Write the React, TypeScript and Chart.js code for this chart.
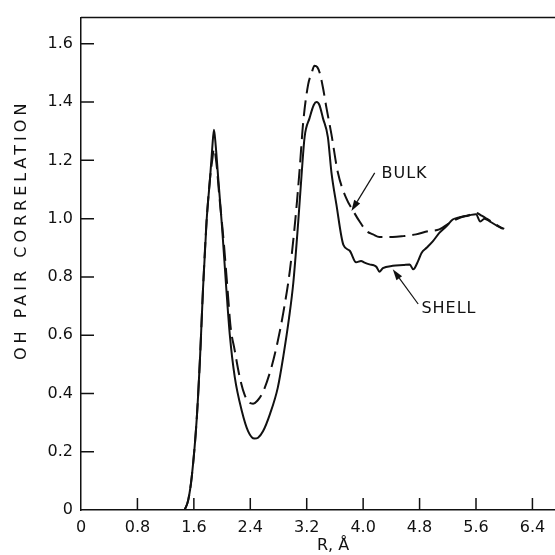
import React, { useEffect, useRef } from "react";
import { Chart, registerables } from "chart.js";

Chart.register(...registerables);

// ---- data ----
const SHELL_R = [
  1.47, 1.52, 1.57, 1.64, 1.69, 1.73, 1.78, 1.83, 1.86, 1.885, 1.91, 1.945, 2.0,
  2.06, 2.11, 2.18, 2.28, 2.37, 2.46, 2.51, 2.58, 2.68, 2.79, 2.87, 2.95, 3.01,
  3.08, 3.13, 3.17, 3.24, 3.3, 3.34, 3.38, 3.43, 3.5, 3.55, 3.62, 3.72, 3.81,
  3.9, 3.97, 4.02, 4.09, 4.15, 4.19, 4.23, 4.28, 4.42, 4.57, 4.66, 4.71, 4.78,
  4.83, 4.9, 4.99, 5.08, 5.18, 5.27, 5.37, 5.51, 5.6, 5.66, 5.72, 5.8, 5.9, 5.98,
];
const SHELL_G = [
  0.0, 0.034, 0.114, 0.31, 0.536, 0.76, 0.99, 1.14, 1.24, 1.305, 1.25, 1.14, 0.97,
  0.76, 0.6, 0.456, 0.34, 0.27, 0.245, 0.248, 0.27, 0.33, 0.42, 0.53, 0.66, 0.78,
  0.99, 1.16, 1.28, 1.345, 1.39, 1.4, 1.39, 1.345, 1.28, 1.16, 1.05, 0.91, 0.89,
  0.85, 0.855, 0.849, 0.843, 0.84, 0.834, 0.818, 0.83, 0.838, 0.841, 0.843, 0.826,
  0.855, 0.883, 0.9, 0.923, 0.951, 0.974, 0.997, 1.005, 1.012, 1.015, 0.99, 1.0,
  0.99, 0.975, 0.965,
];
const BULK_R = [
  1.47, 1.52, 1.57, 1.64, 1.69, 1.73, 1.78, 1.83, 1.86, 1.885, 1.92, 1.96, 2.02,
  2.08, 2.12, 2.18, 2.25, 2.32, 2.39, 2.44, 2.5, 2.58, 2.7, 2.79, 2.87, 2.96,
  3.04, 3.1, 3.15, 3.22, 3.27, 3.31, 3.35, 3.385, 3.43, 3.48, 3.55, 3.64, 3.76,
  3.86, 3.95, 4.05, 4.14, 4.23, 4.42, 4.57, 4.75, 4.92, 5.08, 5.23, 5.37, 5.49,
  5.6, 5.68, 5.75, 5.85, 5.95, 6.0,
];
const BULK_G = [
  0.0, 0.034, 0.114, 0.31, 0.536, 0.76, 0.99, 1.14, 1.2, 1.24, 1.19, 1.08, 0.93,
  0.75, 0.63, 0.547, 0.456, 0.395, 0.368, 0.365, 0.375, 0.405, 0.49, 0.58, 0.68,
  0.82, 1.0, 1.17, 1.33, 1.46, 1.5, 1.525, 1.52, 1.5, 1.45, 1.38, 1.29, 1.16,
  1.07, 1.026, 0.99, 0.957, 0.946, 0.937, 0.937, 0.94, 0.946, 0.957, 0.963,
  0.986, 1.003, 1.011, 1.02, 1.01, 1.0, 0.985, 0.97, 0.965,
];

const X_TICK_LABELS = ["0", "0.8", "1.6", "2.4", "3.2", "4.0", "4.8", "5.6", "6.4"];
const Y_TICK_LABELS = ["0", "0.2", "0.4", "0.6", "0.8", "1.0", "1.2", "1.4", "1.6"];
const X_TITLE = "R, Å";
const Y_TITLE = "OH PAIR CORRELATION";
const SERIES_NAMES = ["SHELL", "BULK"];

// annotation labels with arrows (in data coordinates)
const ANNOTATIONS = [
  { text: "BULK", at: [4.26, 1.157], from: [4.164, 1.157], to: [3.834, 1.026] },
  { text: "SHELL", at: [4.826, 0.695], from: [4.78, 0.707], to: [4.42, 0.826] },
];

const INK = "#111";
const FONT = "'DejaVu Sans', sans-serif";

const decorations = {
  id: "decorations",
  beforeDraw(chart: any) {
    const tweak = (scale: any, dx: number, dy: number, spacing: string) => {
      if (!scale || scale.__tweaked) return;
      const orig = scale.drawTitle.bind(scale);
      scale.drawTitle = function () {
        const ctx = this.ctx;
        ctx.save();
        ctx.translate(dx, dy);
        (ctx as any).letterSpacing = spacing;
        orig();
        ctx.restore();
      };
      scale.__tweaked = true;
    };
    tweak(chart.scales.x, 15, 0, "0px");
    tweak(chart.scales.y, 0, -34, "4px");
  },
  afterDraw(chart: any) {
    const { ctx, chartArea, scales } = chart;
    const { left, right, top, bottom } = chartArea;
    const xs = scales.x;
    const ys = scales.y;
    ctx.save();
    ctx.strokeStyle = INK;
    ctx.fillStyle = INK;
    ctx.lineWidth = 1.5;
    ctx.beginPath();
    xs.ticks.forEach((t: any) => {
      if (t.value === 0) return;
      const px = xs.getPixelForValue(t.value);
      ctx.moveTo(px, bottom);
      ctx.lineTo(px, bottom - 12);
    });
    ys.ticks.forEach((t: any) => {
      if (t.value === 0) return;
      const py = ys.getPixelForValue(t.value);
      ctx.moveTo(left, py);
      ctx.lineTo(left + 13, py);
    });
    ctx.moveTo(left, top);
    ctx.lineTo(right, top);
    ctx.stroke();

    // annotations
    ctx.font = `16px ${FONT}`;
    (ctx as any).letterSpacing = "1px";
    ctx.textAlign = "left";
    ctx.textBaseline = "middle";
    ANNOTATIONS.forEach((a) => {
      const tx = xs.getPixelForValue(a.at[0]);
      const ty = ys.getPixelForValue(a.at[1]);
      ctx.fillText(a.text, tx, ty + 1);
      const fx = xs.getPixelForValue(a.from[0]);
      const fy = ys.getPixelForValue(a.from[1]);
      const px = xs.getPixelForValue(a.to[0]);
      const py = ys.getPixelForValue(a.to[1]);
      const ang = Math.atan2(py - fy, px - fx);
      const headLen = 11;
      const headW = 3.5;
      const bx = px - headLen * Math.cos(ang);
      const by = py - headLen * Math.sin(ang);
      ctx.lineWidth = 1.2;
      ctx.beginPath();
      ctx.moveTo(fx, fy);
      ctx.lineTo(bx, by);
      ctx.stroke();
      ctx.beginPath();
      ctx.moveTo(px, py);
      ctx.lineTo(bx + headW * Math.sin(ang), by - headW * Math.cos(ang));
      ctx.lineTo(bx - headW * Math.sin(ang), by + headW * Math.cos(ang));
      ctx.closePath();
      ctx.fill();
    });
    ctx.restore();
  },
};

export default function App() {
  const ref = useRef<HTMLCanvasElement | null>(null);
  useEffect(() => {
    if (!ref.current) return;
    const chart = new Chart(ref.current, {
      type: "line",
      data: {
        datasets: [
          {
            label: SERIES_NAMES[0],
            data: SHELL_R.map((r, i) => ({ x: r, y: SHELL_G[i] })),
            borderColor: INK,
            borderWidth: 2,
            pointRadius: 0,
            fill: false,
            cubicInterpolationMode: "monotone",
          },
          {
            label: SERIES_NAMES[1],
            data: BULK_R.map((r, i) => ({ x: r, y: BULK_G[i] })),
            borderColor: INK,
            borderWidth: 2,
            borderDash: [16, 7],
            pointRadius: 0,
            fill: false,
            cubicInterpolationMode: "monotone",
          },
        ],
      },
      options: {
        animation: false,
        responsive: false,
        devicePixelRatio: 1,
        layout: { padding: { top: 16, right: 0, left: 0, bottom: 0 } },
        plugins: { legend: { display: false }, tooltip: { enabled: false } },
        scales: {
          x: {
            type: "linear",
            min: 0,
            max: 6.72,
            afterFit: (s: any) => {
              s.height = 45;
            },
            grid: { display: true, drawOnChartArea: false, drawTicks: false },
            border: { display: true, color: INK, width: 1.5 },
            ticks: {
              stepSize: 0.8,
              includeBounds: false,
              autoSkip: false,
              maxRotation: 0,
              padding: 8,
              color: INK,
              font: { family: FONT, size: 16 },
              callback: (_v: any, i: number) => X_TICK_LABELS[i],
            },
            title: {
              display: true,
              text: X_TITLE,
              color: INK,
              font: { family: FONT, size: 16 },
              padding: { top: 0, bottom: 0 },
            },
          },
          y: {
            type: "linear",
            min: 0,
            max: 1.69,
            afterFit: (s: any) => {
              s.width = 81;
            },
            grid: { display: true, drawOnChartArea: false, drawTicks: false },
            border: { display: true, color: INK, width: 1.5 },
            ticks: {
              stepSize: 0.2,
              includeBounds: false,
              autoSkip: false,
              padding: 8,
              color: INK,
              font: { family: FONT, size: 16 },
              callback: (_v: any, i: number) => Y_TICK_LABELS[i],
            },
            title: {
              display: true,
              text: Y_TITLE,
              color: INK,
              font: { family: FONT, size: 16 },
              padding: { top: 12, bottom: 0 },
            },
          },
        },
      },
      plugins: [decorations],
    } as any);
    return () => chart.destroy();
  }, []);
  return (
    <div style={{ position: "fixed", left: 0, top: 0, width: 555, height: 555, background: "#fff" }}>
      <canvas ref={ref} width={555} height={555} style={{ display: "block" }} />
    </div>
  );
}
